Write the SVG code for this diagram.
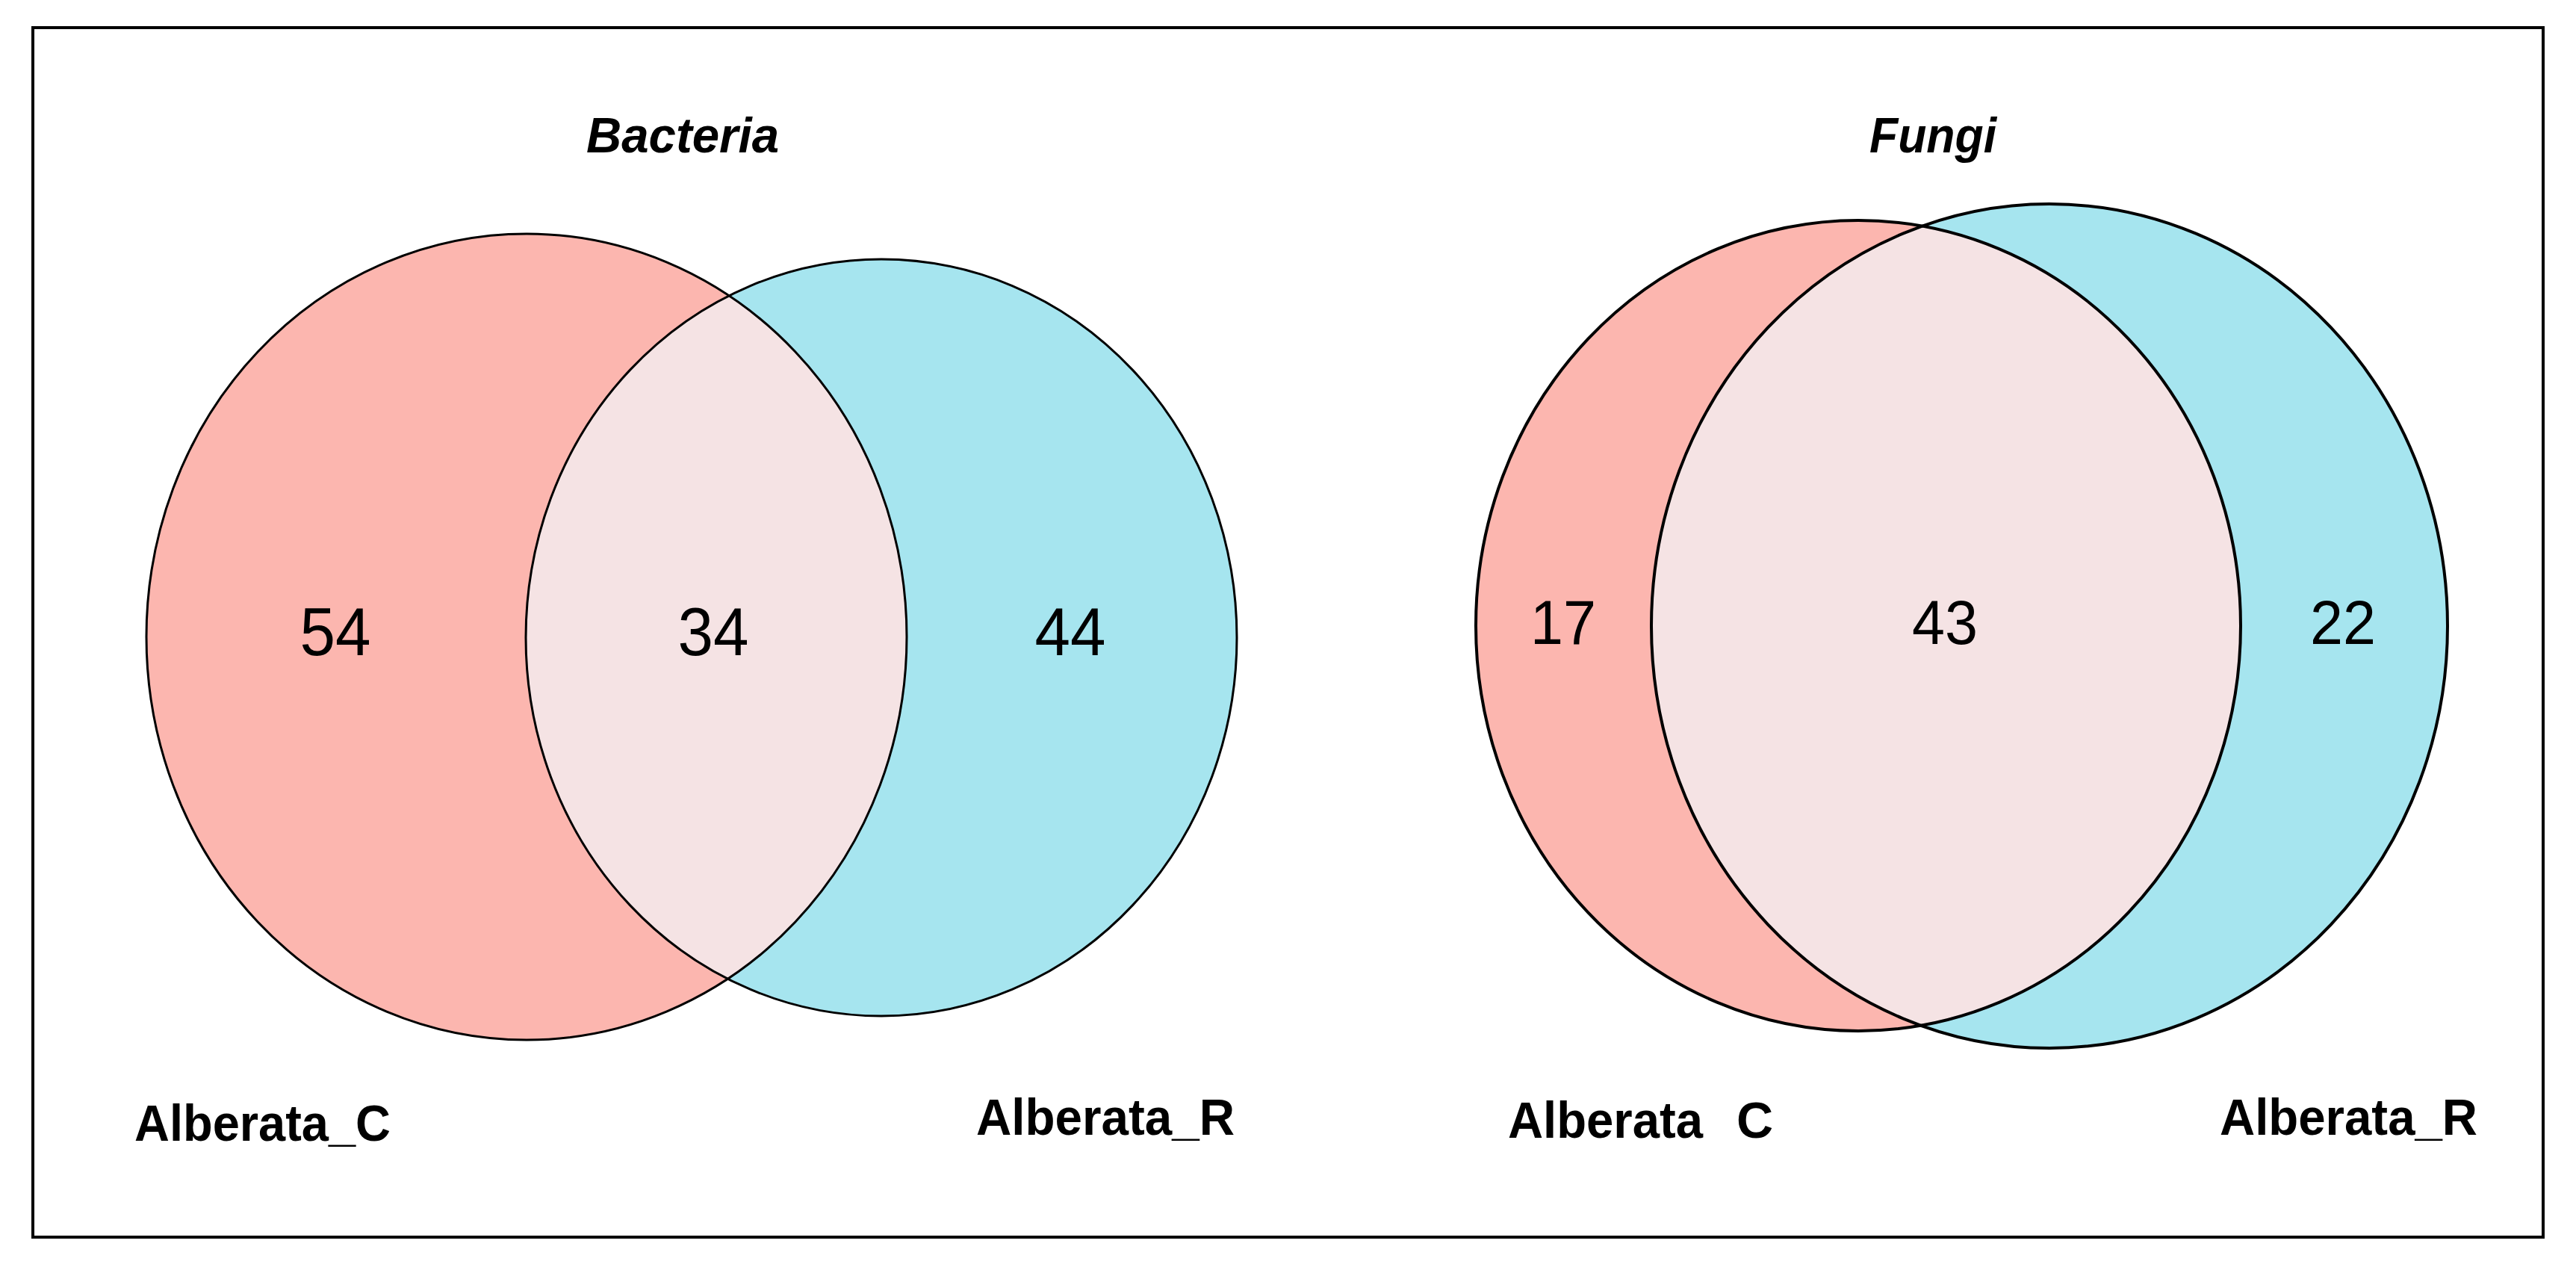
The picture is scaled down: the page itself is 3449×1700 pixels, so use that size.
<svg xmlns="http://www.w3.org/2000/svg" width="3449" height="1700" viewBox="0 0 3449 1700">
  <style>
    .frame { fill: #ffffff; stroke: #000000; stroke-width: 4; }
    .setA { fill: #FCB6AF; }
    .setB { fill: #A6E5EF; }
    .inter { fill: #F5E3E4; }
    .outline { fill: none; stroke: #000000; }
    .thinO { stroke-width: 3; }
    .thickO { stroke-width: 4; }
    .title { font-family: "Liberation Sans", Arial, sans-serif; font-weight: bold; font-style: italic; font-size: 67px; fill: #000; }
    .lab { font-family: "Liberation Sans", Arial, sans-serif; font-weight: bold; font-size: 68px; fill: #000; }
    .numB { font-family: "Liberation Sans", Arial, sans-serif; font-size: 91px; fill: #000; text-anchor: middle; }
    .numF { font-family: "Liberation Sans", Arial, sans-serif; font-size: 84px; fill: #000; text-anchor: middle; }
  </style>
  <defs>
    <clipPath id="clipBacC"><ellipse cx="705" cy="852.5" rx="509" ry="539.5"/></clipPath>
    <clipPath id="clipFunC"><ellipse cx="2488" cy="837.5" rx="512" ry="542.5"/></clipPath>
  </defs>

  <rect class="frame" x="44" y="37" width="3361" height="1619"/>

  <g id="bacteria">
    <text class="title" x="785" y="204" textLength="258" lengthAdjust="spacingAndGlyphs">Bacteria</text>
    <g id="bac-alberata-c">
      <ellipse class="setA" cx="705" cy="852.5" rx="509" ry="539.5"/>
    </g>
    <g id="bac-alberata-r">
      <ellipse class="setB" cx="1180" cy="853.5" rx="476" ry="506.5"/>
    </g>
    <g id="bac-overlap">
      <ellipse class="inter" cx="1180" cy="853.5" rx="476" ry="506.5" clip-path="url(#clipBacC)"/>
    </g>
    <ellipse class="outline thinO" cx="705" cy="852.5" rx="509" ry="539.5"/>
    <ellipse class="outline thinO" cx="1180" cy="853.5" rx="476" ry="506.5"/>
    <text class="numB" x="449" y="877" textLength="95" lengthAdjust="spacingAndGlyphs">54</text>
    <text class="numB" x="955" y="877" textLength="95" lengthAdjust="spacingAndGlyphs">34</text>
    <text class="numB" x="1433" y="877" textLength="95" lengthAdjust="spacingAndGlyphs">44</text>
    <text class="lab" x="180" y="1527" textLength="343" lengthAdjust="spacingAndGlyphs">Alberata_C</text>
    <text class="lab" x="1307" y="1519" textLength="346" lengthAdjust="spacingAndGlyphs">Alberata_R</text>
  </g>

  <g id="fungi">
    <text class="title" x="2503" y="204" textLength="170" lengthAdjust="spacingAndGlyphs">Fungi</text>
    <g id="fun-alberata-c">
      <ellipse class="setA" cx="2488" cy="837.5" rx="512" ry="542.5"/>
    </g>
    <g id="fun-alberata-r">
      <ellipse class="setB" cx="2744" cy="838" rx="533" ry="565"/>
    </g>
    <g id="fun-overlap">
      <ellipse class="inter" cx="2744" cy="838" rx="533" ry="565" clip-path="url(#clipFunC)"/>
    </g>
    <ellipse class="outline thickO" cx="2488" cy="837.5" rx="512" ry="542.5"/>
    <ellipse class="outline thickO" cx="2744" cy="838" rx="533" ry="565"/>
    <text class="numF" x="2093" y="862" textLength="88" lengthAdjust="spacingAndGlyphs">17</text>
    <text class="numF" x="2604" y="862" textLength="88" lengthAdjust="spacingAndGlyphs">43</text>
    <text class="numF" x="3137" y="862" textLength="88" lengthAdjust="spacingAndGlyphs">22</text>
    <text class="lab" x="2019" y="1523"><tspan textLength="261" lengthAdjust="spacingAndGlyphs">Alberata</tspan> <tspan x="2325">C</tspan></text>
    <text class="lab" x="2972" y="1519" textLength="345" lengthAdjust="spacingAndGlyphs">Alberata_R</text>
  </g>

  <g id="connectors"/>
</svg>
